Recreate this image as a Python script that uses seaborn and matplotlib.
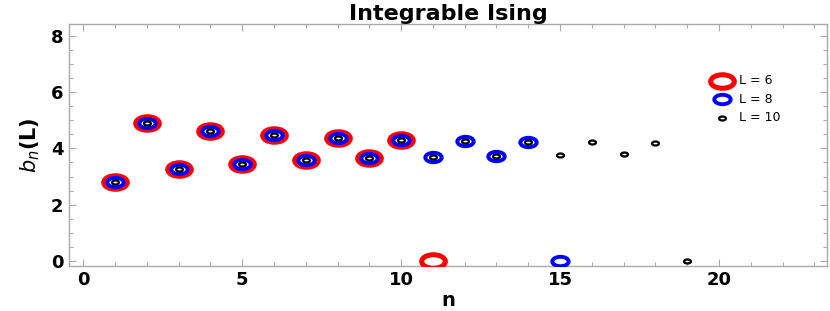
import numpy as np
import pandas as pd
import matplotlib
matplotlib.use("Agg")
import matplotlib.pyplot as plt
from matplotlib.path import Path
from matplotlib.ticker import MultipleLocator
import seaborn as sns

# Lanczos coefficients b_n(L)
n_L6 = [1, 2, 3, 4, 5, 6, 7, 8, 9, 10, 11]
b_L6 = [2.81, 4.91, 3.27, 4.63, 3.45, 4.48, 3.59, 4.38, 3.67, 4.31, 0.0]

n_L8 = [1, 2, 3, 4, 5, 6, 7, 8, 9, 10, 11, 12, 13, 14, 15]
b_L8 = [2.81, 4.91, 3.27, 4.63, 3.45, 4.48, 3.59, 4.38, 3.67, 4.31,
        3.70, 4.27, 3.74, 4.24, 0.0]

n_L10 = list(range(1, 20))
b_L10 = [2.81, 4.91, 3.27, 4.63, 3.45, 4.48, 3.59, 4.38, 3.67, 4.31,
         3.70, 4.27, 3.74, 4.24, 3.77, 4.23, 3.80, 4.20, 0.0]

series = [
    ("L = 6", n_L6, b_L6, "#ff0000", 290, 3.6),
    ("L = 8", n_L8, b_L8, "#0000ff", 140, 2.8),
    ("L = 10", n_L10, b_L10, "black", 25, 1.6),
]

sns.set_style("ticks")
plt.rcParams["font.family"] = ["DejaVu Sans"]
plt.rcParams["mathtext.fontset"] = "dejavusans"
plt.rcParams["text.color"] = "black"
plt.rcParams["xtick.labelcolor"] = "black"
plt.rcParams["ytick.labelcolor"] = "black"
plt.rcParams["axes.labelcolor"] = "black"

# flattened ellipse marker (Mathematica-style stretched circles)
circ = Path.unit_circle()
ellipse = Path(circ.vertices * np.array([1.75, 1.0]), circ.codes)

fig = plt.figure(figsize=(8.3, 3.11), dpi=100)
ax = fig.add_axes([0.083, 0.145, 0.9135, 0.778])

for i, (lab, n, b, col, s, lw) in enumerate(series):
    df = pd.DataFrame({"n": n, "b": b})
    sns.scatterplot(data=df, x="n", y="b", ax=ax, marker=ellipse, s=s,
                    facecolor="white", edgecolor=col, linewidth=lw,
                    label=lab, zorder=3 + i)

ax.set_xlim(-0.45, 23.4)
ax.set_ylim(-0.18, 8.43)
ax.xaxis.set_major_locator(MultipleLocator(5))
ax.xaxis.set_minor_locator(MultipleLocator(1))
ax.yaxis.set_major_locator(MultipleLocator(2))
ax.yaxis.set_minor_locator(MultipleLocator(0.5))

grey = "#aaaaaa"
for sp in ax.spines.values():
    sp.set_color(grey)
    sp.set_linewidth(1.0)
ax.tick_params(which="both", direction="in", top=True, right=True,
               color=grey, width=0.8)
ax.tick_params(which="major", length=5, pad=4, labelsize=13)
ax.tick_params(which="minor", length=3)
for t in ax.get_xticklabels() + ax.get_yticklabels():
    t.set_fontweight("heavy")

ax.set_title("Integrable Ising", fontsize=16, fontweight="heavy", pad=3)
ax.set_xlabel("n", fontsize=14, fontweight="heavy", labelpad=1)
ax.set_ylabel(r"$b_n$(L)", fontsize=15, fontweight="heavy", labelpad=6)

ax.legend(loc="upper left", bbox_to_anchor=(0.83, 0.84), frameon=False,
          fontsize=9, handletextpad=0.4, labelspacing=0.45)

plt.savefig("out.png", dpi=100)
plt.close()
